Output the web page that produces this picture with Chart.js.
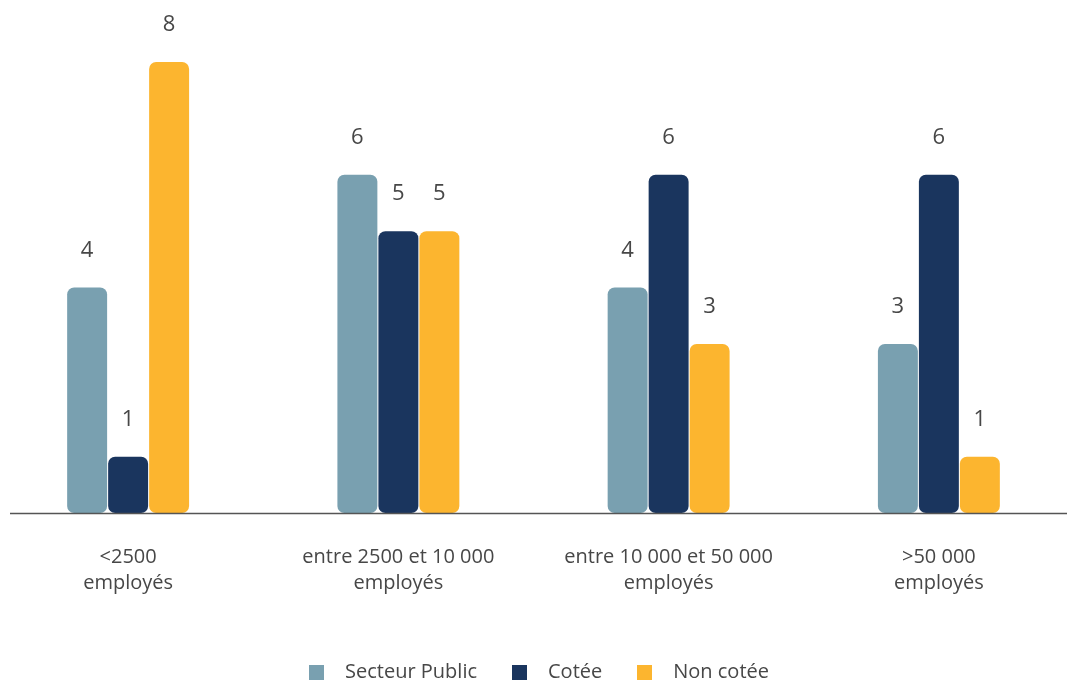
<!DOCTYPE html>
<html lang="fr">
<head>
<meta charset="utf-8">
<title>Répartition par taille d'entreprise</title>
<script src="https://cdn.jsdelivr.net/npm/chart.js@4/dist/chart.umd.min.js"></script>
<style>
  html, body { margin: 0; padding: 0; background: #ffffff; overflow: hidden; }
  #wrap { position: absolute; left: -7px; top: 0; width: 1081px; height: 692px; }
</style>
</head>
<body>
<div id="wrap"><canvas id="chart"></canvas></div>
<script>
// Company size categories (two-line labels)
const categories = [
  ['<2500', 'employés'],
  ['entre 2500 et 10 000', 'employés'],
  ['entre 10 000 et 50 000', 'employés'],
  ['>50 000', 'employés']
];
const seriesNames = ['Secteur Public', 'Cotée', 'Non cotée'];
const secteurPublic = [4, 6, 4, 3];
const cotee = [1, 5, 6, 6];
const nonCotee = [8, 5, 3, 1];
const seriesColors = ['#79a0b0', '#1a355e', '#fcb52f'];

const TEXT = '#474747';
const FONT = "'Open Sans', 'DejaVu Sans', sans-serif";
const WEIGHT = 400;

// Small square swatches used as legend markers
const swatches = seriesColors.map(c => {
  const cv = document.createElement('canvas');
  cv.width = 15; cv.height = 15;
  const g = cv.getContext('2d');
  g.fillStyle = c;
  g.fillRect(0, 0, 15, 15);
  return cv;
});

// Value written above each bar
const valueLabels = {
  id: 'valueLabels',
  afterDatasetsDraw(chart) {
    const ctx = chart.ctx;
    ctx.save();
    ctx.font = WEIGHT + " 22px " + FONT;
    ctx.fillStyle = TEXT;
    ctx.textAlign = 'center';
    ctx.textBaseline = 'middle';
    chart.data.datasets.forEach((ds, di) => {
      const meta = chart.getDatasetMeta(di);
      meta.data.forEach((bar, i) => {
        ctx.fillText(String(ds.data[i]), bar.x, bar.y - 37);
      });
    });
    ctx.restore();
  }
};

// Horizontal base line under the bars
const baseLine = {
  id: 'baseLine',
  afterDatasetsDraw(chart) {
    const ctx = chart.ctx;
    const y = chart.scales.y.getPixelForValue(0) + 0.5;
    ctx.save();
    ctx.strokeStyle = '#555555';
    ctx.lineWidth = 1.5;
    ctx.beginPath();
    ctx.moveTo(17, y);
    ctx.lineTo(chart.chartArea.right, y);
    ctx.stroke();
    ctx.restore();
  }
};

const dataSeries = [secteurPublic, cotee, nonCotee];

new Chart(document.getElementById('chart'), {
  type: 'bar',
  data: {
    labels: categories,
    datasets: dataSeries.map((d, i) => ({
      label: seriesNames[i],
      data: d,
      backgroundColor: seriesColors[i],
      borderRadius: 7,
      borderSkipped: false,
      barPercentage: 0.975,
      categoryPercentage: 0.455
    }))
  },
  options: {
    responsive: true,
    maintainAspectRatio: false,
    animation: false,
    layout: { padding: { top: 62, left: 0, right: 0, bottom: 0 } },
    scales: {
      x: {
        grid: { display: false, drawTicks: false },
        border: { display: false },
        ticks: {
          color: TEXT,
          font: { family: FONT, size: 20, weight: WEIGHT, lineHeight: 1.3 },
          padding: 31,
          maxRotation: 0,
          autoSkip: false
        },
        afterFit(scale) { scale.height = 125; }
      },
      y: {
        display: false,
        min: 0,
        max: 8
      }
    },
    plugins: {
      tooltip: { enabled: false },
      legend: {
        position: 'bottom',
        labels: {
          color: TEXT,
          font: { family: FONT, size: 20, weight: WEIGHT },
          usePointStyle: true,
          pointStyleWidth: 37,
          padding: 24,
          generateLabels(chart) {
            const items = Chart.defaults.plugins.legend.labels.generateLabels(chart);
            return items.map((it, i) => Object.assign(it, { pointStyle: swatches[i] }));
          }
        }
      }
    }
  },
  plugins: [valueLabels, baseLine]
});
</script>
</body>
</html>
